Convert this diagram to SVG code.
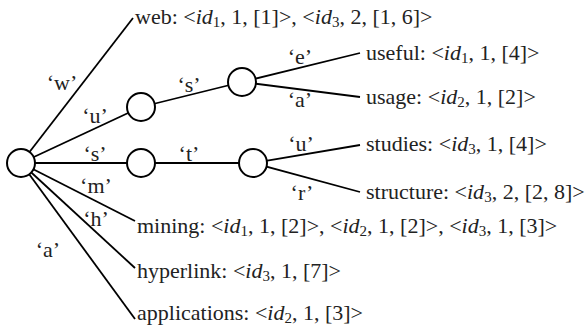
<svg xmlns="http://www.w3.org/2000/svg" width="588" height="331" viewBox="0 0 588 331">
<style>
  .e { stroke: #000; stroke-width: 1.8; fill: none; }
  .n { stroke: #000; stroke-width: 2; fill: #fff; }
  text { font-family: 'Liberation Serif', 'Times New Roman', serif; font-size: 22px; fill: #222; }
  .lb { text-anchor: middle; }
  .it { font-style: italic; }
  .sb { font-size: 15px; }
</style>
<rect width="588" height="331" fill="#fff"/>
<g id="connectors">
  <line class="e" x1="21" y1="163" x2="133" y2="18"/>
  <line class="e" x1="21" y1="163" x2="141" y2="107"/>
  <line class="e" x1="21" y1="163" x2="141" y2="163"/>
  <line class="e" x1="21" y1="163" x2="135" y2="221"/>
  <line class="e" x1="21" y1="163" x2="135" y2="268"/>
  <line class="e" x1="21" y1="163" x2="135" y2="319"/>
  <line class="e" x1="141" y1="107" x2="242" y2="82"/>
  <line class="e" x1="242" y1="82" x2="360" y2="53"/>
  <line class="e" x1="242" y1="82" x2="360" y2="97"/>
  <line class="e" x1="141" y1="163" x2="253" y2="163"/>
  <line class="e" x1="253" y1="163" x2="360" y2="145"/>
  <line class="e" x1="253" y1="163" x2="360" y2="192"/>
  <text class="lb" x="62" y="90">‘w’</text>
  <text class="lb" x="95" y="123">‘u’</text>
  <text class="lb" x="189" y="92">‘s’</text>
  <text class="lb" x="95" y="161">‘s’</text>
  <text class="lb" x="189" y="161">‘t’</text>
  <text class="lb" x="300" y="64">‘e’</text>
  <text class="lb" x="300" y="107">‘a’</text>
  <text class="lb" x="301" y="151">‘u’</text>
  <text class="lb" x="302" y="200">‘r’</text>
  <text class="lb" x="96" y="193">‘m’</text>
  <text class="lb" x="96" y="226">‘h’</text>
  <text class="lb" x="48" y="257">‘a’</text>
</g>
<g id="root"><circle class="n" cx="21" cy="163" r="14"/></g>
<g id="node-u"><circle class="n" cx="141" cy="107" r="14"/></g>
<g id="node-us"><circle class="n" cx="242" cy="82" r="14"/></g>
<g id="node-s"><circle class="n" cx="141" cy="163" r="14"/></g>
<g id="node-st"><circle class="n" cx="253" cy="163" r="14"/></g>
<g id="leaf-web"><text x="135" y="24">web: &lt;<tspan class="it">id</tspan><tspan class="sb" dy="3">1</tspan><tspan dy="-3">, 1, [1]&gt;, &lt;</tspan><tspan class="it">id</tspan><tspan class="sb" dy="3">3</tspan><tspan dy="-3">, 2, [1, 6]&gt;</tspan></text></g>
<g id="leaf-useful"><text x="366" y="60">useful: &lt;<tspan class="it">id</tspan><tspan class="sb" dy="3">1</tspan><tspan dy="-3">, 1, [4]&gt;</tspan></text></g>
<g id="leaf-usage"><text x="366" y="104">usage: &lt;<tspan class="it">id</tspan><tspan class="sb" dy="3">2</tspan><tspan dy="-3">, 1, [2]&gt;</tspan></text></g>
<g id="leaf-studies"><text x="366" y="151">studies: &lt;<tspan class="it">id</tspan><tspan class="sb" dy="3">3</tspan><tspan dy="-3">, 1, [4]&gt;</tspan></text></g>
<g id="leaf-structure"><text x="366" y="199">structure: &lt;<tspan class="it">id</tspan><tspan class="sb" dy="3">3</tspan><tspan dy="-3">, 2, [2, 8]&gt;</tspan></text></g>
<g id="leaf-mining"><text x="137" y="233">mining: &lt;<tspan class="it">id</tspan><tspan class="sb" dy="3">1</tspan><tspan dy="-3">, 1, [2]&gt;, &lt;</tspan><tspan class="it">id</tspan><tspan class="sb" dy="3">2</tspan><tspan dy="-3">, 1, [2]&gt;, &lt;</tspan><tspan class="it">id</tspan><tspan class="sb" dy="3">3</tspan><tspan dy="-3">, 1, [3]&gt;</tspan></text></g>
<g id="leaf-hyperlink"><text x="137" y="278">hyperlink: &lt;<tspan class="it">id</tspan><tspan class="sb" dy="3">3</tspan><tspan dy="-3">, 1, [7]&gt;</tspan></text></g>
<g id="leaf-applications"><text x="137" y="320">applications: &lt;<tspan class="it">id</tspan><tspan class="sb" dy="3">2</tspan><tspan dy="-3">, 1, [3]&gt;</tspan></text></g>
</svg>
